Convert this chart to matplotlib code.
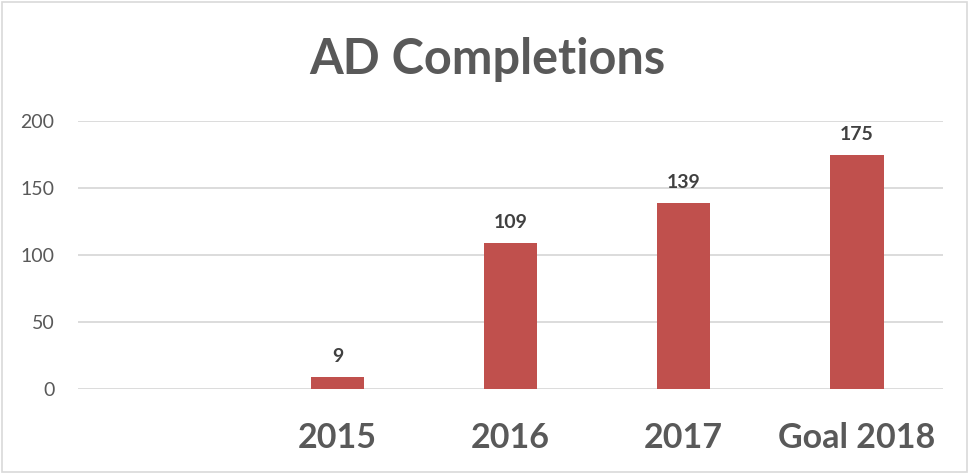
import matplotlib
matplotlib.use("Agg")
import matplotlib.pyplot as plt
from matplotlib.patches import Rectangle

categories = ["", "2015", "2016", "2017", "Goal 2018"]
values = [None, 9, 109, 139, 175]
yticks = [0, 50, 100, 150, 200]

plt.rcParams['font.family'] = ['Lato', 'DejaVu Sans']
fig = plt.figure(figsize=(9.7, 4.75), dpi=100)
ax = fig.add_axes([0.0804, 0.181, 0.892, 0.564])

xs = [i for i, v in enumerate(values) if v is not None]
vs = [v for v in values if v is not None]
ax.bar(xs, vs, width=0.31, color="#C0504D", zorder=3)
for x, v in zip(xs, vs):
    ax.text(x, v + 9, str(v), ha="center", va="bottom", fontsize=14,
            fontweight="bold", color="#404040")

ax.set_xlim(-0.5, len(categories) - 0.5)
ax.set_ylim(0, 200)
ax.set_yticks(yticks)
ax.set_yticklabels([str(t) for t in yticks], fontsize=14, color="#595959")
ax.set_xticks(range(len(categories)))
ax.set_xticklabels(categories, fontsize=24.5, fontweight="bold", color="#595959")
ax.tick_params(axis="both", length=0)
ax.tick_params(axis="x", pad=24)
ax.tick_params(axis="y", pad=17)
ax.grid(axis="y", color="#D9D9D9", linewidth=1.3, zorder=0)
for s in ax.spines.values():
    s.set_visible(False)

fig.text(0.502, 0.874, "AD Completions", ha="center", va="center",
         fontsize=35, fontweight="bold", color="#595959")

fig.patches.append(Rectangle((0.002, 0.006), 0.995, 0.99, transform=fig.transFigure,
                             fill=False, edgecolor="#D9D9D9", linewidth=1.2))
fig.savefig("out.png", dpi=100)
